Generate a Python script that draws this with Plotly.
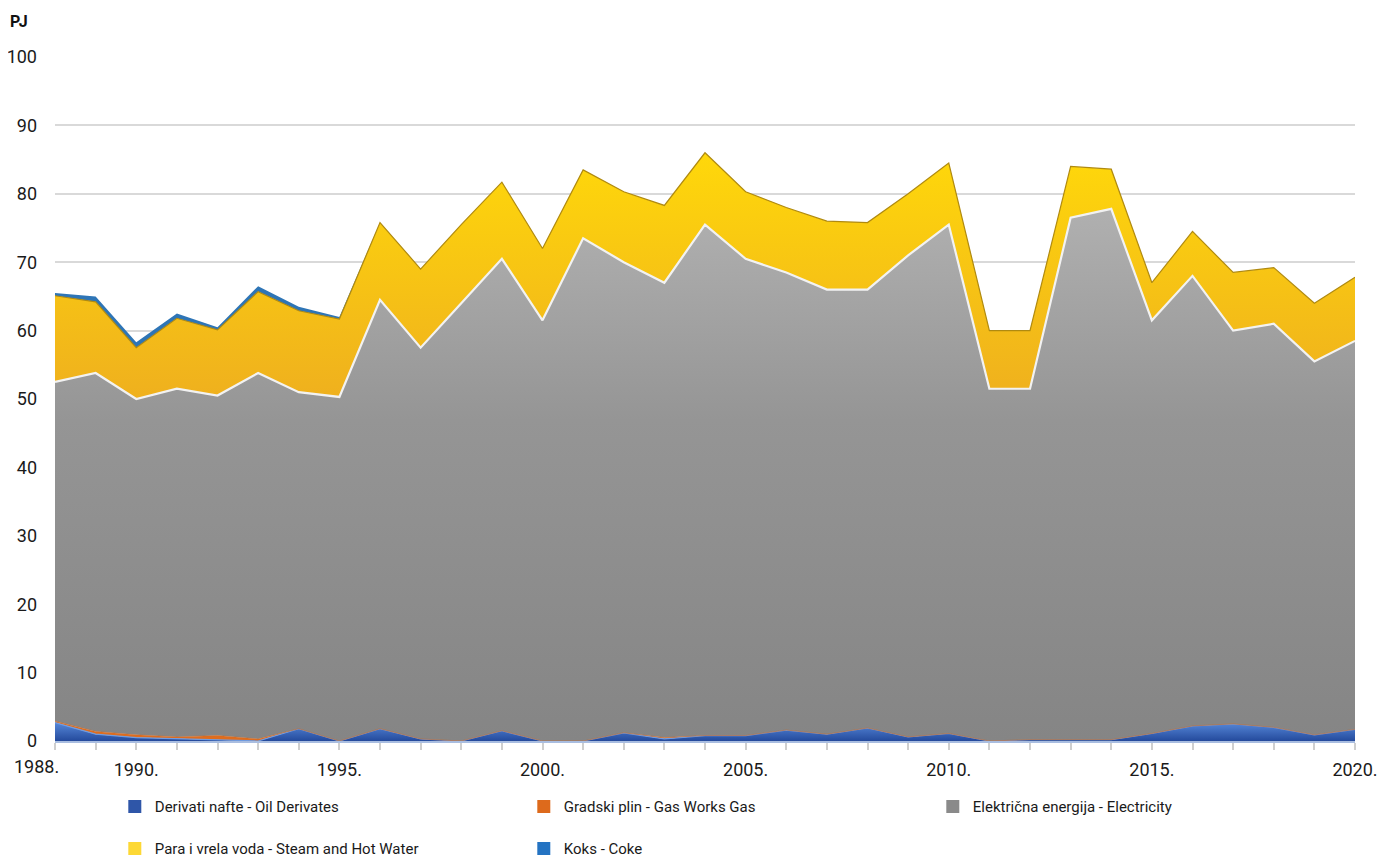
import plotly.graph_objects as go

years = list(range(1988, 2021))

# (PJ)
oil = [2.7, 1.0, 0.5, 0.3, 0.2, 0.0, 1.8, 0.0, 1.8, 0.3, 0.0, 1.5, 0.0, 0.0, 1.2, 0.3, 0.8,
       0.8, 1.6, 1.0, 1.9, 0.6, 1.1, 0.0, 0.2, 0.2, 0.2, 1.1, 2.2, 2.5, 2.0, 0.9, 1.7]
gas = [0.2, 0.4, 0.4, 0.3, 0.6, 0.3, 0.0, 0.0, 0.0, 0.0, 0.0, 0.0, 0.0, 0.0, 0.0, 0.2, 0.0,
       0.0, 0.0, 0.0, 0.0, 0.0, 0.0, 0.0, 0.0, 0.0, 0.0, 0.0, 0.0, 0.0, 0.0, 0.0, 0.0]
electricity = [49.6, 52.4, 49.1, 50.9, 49.7, 53.5, 49.2, 50.3, 62.7, 57.2, 64.0, 69.0, 61.5, 73.5, 68.8, 66.5, 74.7,
               69.7, 66.9, 65.0, 64.1, 70.4, 74.4, 51.5, 51.3, 76.3, 77.6, 60.4, 65.8, 57.5, 59.0, 54.6, 56.8]
steam = [12.6, 10.4, 7.5, 10.3, 9.6, 11.9, 11.9, 11.4, 11.3, 11.5, 11.5, 11.2, 10.5, 10.0, 10.3, 11.3, 10.5,
         9.8, 9.5, 10.0, 9.8, 9.0, 9.0, 8.5, 8.5, 7.5, 5.8, 5.5, 6.5, 8.5, 8.2, 8.5, 9.3]
coke = [0.4, 0.8, 0.8, 0.7, 0.4, 0.8, 0.6, 0.3, 0.0, 0.0, 0.0, 0.0, 0.0, 0.0, 0.0, 0.0, 0.0,
        0.0, 0.0, 0.0, 0.0, 0.0, 0.0, 0.0, 0.0, 0.0, 0.0, 0.0, 0.0, 0.0, 0.0, 0.0, 0.0]

names = ["Derivati nafte - Oil Derivates", "Gradski plin - Gas Works Gas",
         "Električna energija - Electricity", "Para i vrela voda - Steam and Hot Water",
         "Koks - Coke"]
legend_colors = ["#2f56a8", "#dd6a1c", "#8a8a8a", "#fdd835", "#2473c2"]

x_label_years = [1990, 1995, 2000, 2005, 2010, 2015, 2020]
y_ticks = list(range(0, 101, 10))

FONT = "Roboto, Liberation Sans, sans-serif"

fig = go.Figure()

fig.add_trace(go.Scatter(
    x=years, y=oil, name=names[0], stackgroup="s", mode="lines", showlegend=False,
    line=dict(color="#6f9be0", width=1.2),
    fillgradient=dict(type="vertical", start=0, stop=3,
                      colorscale=[[0, "#244a9c"], [1, "#5c8fe0"]]),
    fillcolor="#3462b8"))
fig.add_trace(go.Scatter(
    x=years, y=gas, name=names[1], stackgroup="s", mode="lines", showlegend=False,
    line=dict(color="#d4661c", width=0.5), fillcolor="#de6d1f"))
fig.add_trace(go.Scatter(
    x=years, y=electricity, name=names[2], stackgroup="s", mode="lines", showlegend=False,
    line=dict(color="#f2f2f2", width=2.2),
    fillgradient=dict(type="vertical", start=0, stop=78,
                      colorscale=[[0, "#858585"], [0.6, "#959595"], [1, "#b0b0b0"]]),
    fillcolor="#959595"))
fig.add_trace(go.Scatter(
    x=years, y=steam, name=names[3], stackgroup="s", mode="lines", showlegend=False,
    line=dict(color="#b08a10", width=1.2),
    fillgradient=dict(type="vertical", start=50, stop=86,
                      colorscale=[[0, "#efb01e"], [1, "#ffd80a"]]),
    fillcolor="#fcc91a"))
fig.add_trace(go.Scatter(
    x=years, y=coke, name=names[4], stackgroup="s", mode="lines", showlegend=False,
    line=dict(color="rgba(0,0,0,0)", width=0), fillcolor="#2e75b6"))

# legend entries (square swatches as in the reference)
for nm, col in zip(names, legend_colors):
    fig.add_trace(go.Scatter(
        x=[None], y=[None], mode="markers", name=nm + "<br> ",
        marker=dict(symbol="square", size=13, color=col), showlegend=True))

# the page adds an 8 px body margin, so the figure is 8 px smaller
fig.update_layout(
    width=1382, height=853,
    margin=dict(l=47, r=35, t=49, b=120, autoexpand=False),
    paper_bgcolor="white", plot_bgcolor="white",
    font=dict(family=FONT, size=18, color="#1a1a1a"),
    showlegend=True,
    legend=dict(orientation="h", x=0.046, xanchor="left", y=-0.072, yanchor="top",
                entrywidth=364, entrywidthmode="pixels", traceorder="normal",
                valign="top",
                font=dict(family=FONT, size=15, color="#1a1a1a"),
                itemwidth=30),
    xaxis=dict(range=[1988, 2020], tickvals=years, automargin=False,
               ticktext=[(f"{y}." if y in x_label_years else "") for y in years],
               ticks="outside", ticklen=7, tickcolor="#cfcfcf", tickwidth=1.5,
               showgrid=False, showline=True, linecolor="#a9bde0", linewidth=2,
               zeroline=False, tickfont=dict(size=18), ticklabelstandoff=4),
    yaxis=dict(range=[0, 100], tickvals=y_ticks, showgrid=True, gridcolor="#d9d9d9",
               gridwidth=2, zeroline=False, showline=False, ticks="", automargin=False,
               ticklabelstandoff=17, tickfont=dict(size=18)),
    annotations=[
        dict(text="<b>PJ</b>", xref="paper", yref="paper", x=-0.036, y=1.0526,
             xanchor="left", yanchor="middle", showarrow=False,
             font=dict(family="Roboto, sans-serif", size=16, color="#111")),
        dict(text="1988.", xref="paper", yref="paper", x=0, y=0, xanchor="right",
             yanchor="top", xshift=6, yshift=-13, showarrow=False,
             font=dict(family=FONT, size=18, color="#1a1a1a")),
    ],
)

fig.write_html("out.html")
